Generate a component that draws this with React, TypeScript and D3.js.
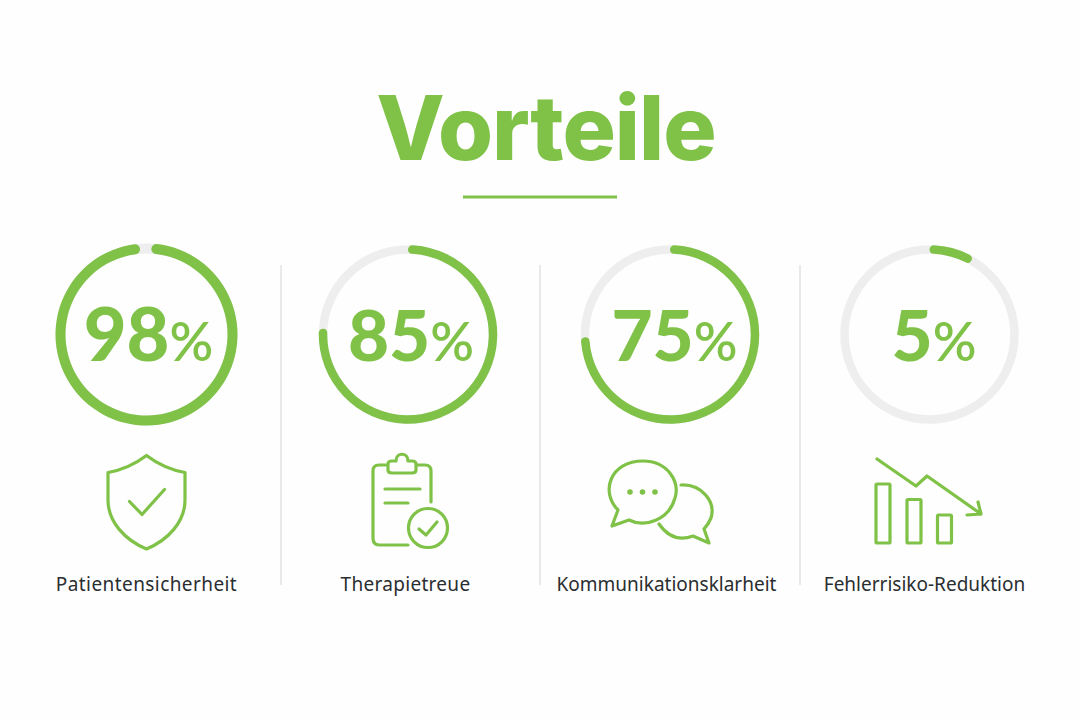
import React, { useEffect, useRef } from "react";
import * as d3 from "d3";

const labels = ["Patientensicherheit", "Therapietreue", "Kommunikationsklarheit", "Fehlerrisiko-Reduktion"];
const values = [98, 85, 75, 5];
// how far the ring is actually filled in the picture (not the same as the printed number)
const ringFill = [0.979, 0.761, 0.745, 0.082];
const ringStart = [0.009, 0, 0, 0];
const centers = [146.5, 408, 670, 929.5];
const valueCenters = [148.5, 411, 674.5, 934];
const labelCenters = [146.5, 405.5, 666.5, 924.5];
const labelSpacing = [0.42, 0.3, 0, 0];
const dividers = [281, 540, 800];

const GREEN = "#7FC247";
const TRACK = "#EEEEEE";

const App: React.FC = () => {
  const ref = useRef<SVGSVGElement | null>(null);

  useEffect(() => {
    const svg = d3.select(ref.current);
    svg.selectAll("*").remove();
    const font = "Lato, 'Open Sans', sans-serif";

    svg.append("rect").attr("width", 1080).attr("height", 720).attr("fill", "#FEFEFE");

    // title
    svg.append("text")
      .attr("x", 546).attr("y", 160)
      .attr("text-anchor", "middle")
      .style("font-family", "Inter, Lato, sans-serif").style("font-weight", 800).style("font-size", "89px")
      .style("letter-spacing", "-1px")
      .attr("fill", GREEN)
      .text("Vorteile");

    svg.append("line")
      .attr("x1", 463).attr("x2", 617).attr("y1", 197).attr("y2", 197)
      .attr("stroke", GREEN).attr("stroke-width", 3);

    svg.selectAll("line.divider").data(dividers).enter().append("line")
      .attr("class", "divider")
      .attr("x1", (d) => d).attr("x2", (d) => d)
      .attr("y1", 265).attr("y2", 585)
      .attr("stroke", "#E2E2E2").attr("stroke-width", 1.5);

    const scale = d3.scaleLinear().domain([0, 1]).range([0, 2 * Math.PI]);

    values.forEach((v, i) => {
      const g = svg.append("g").attr("transform", `translate(${centers[i]},334.5)`);
      const r = i === 0 ? 86 : 85;
      const w = i === 0 ? 10 : 8.5;
      g.append("circle").attr("r", r).attr("fill", "none").attr("stroke", TRACK).attr("stroke-width", w);

      const arc = d3.arc<any>()
        .innerRadius(r - w / 2).outerRadius(r + w / 2).cornerRadius(w / 2);
      g.append("path")
        .attr("d", arc({ startAngle: scale(ringStart[i]), endAngle: scale(ringStart[i] + ringFill[i]) }))
        .attr("fill", GREEN);

      const big = i === 0 ? 74 : 71;
      const t = svg.append("text")
        .attr("x", valueCenters[i]).attr("y", 361)
        .attr("text-anchor", "middle")
        .style("font-family", font)
        .attr("fill", GREEN);
      t.append("tspan").style("font-weight", 900).style("font-size", big + "px").text(v);
      t.append("tspan").style("font-weight", 600).style("font-size", "54px").text("%");

      svg.append("text")
        .attr("x", labelCenters[i]).attr("y", 591)
        .attr("text-anchor", "middle")
        .style("font-family", "'Noto Sans', sans-serif").style("font-size", "19px")
        .style("letter-spacing", labelSpacing[i] + "px")
        .attr("fill", "#2A2E31")
        .text(labels[i]);
    });

    const icon = svg.append("g")
      .attr("fill", "none").attr("stroke", GREEN).attr("stroke-width", 3.2)
      .attr("stroke-linecap", "round").attr("stroke-linejoin", "round");

    // shield
    icon.append("path").attr("d", "M146.5 455.5 C134 465 122 470 108 472.5 L108 500 C108 522 125 540 146.5 549 C168 540 185 522 185 500 L185 472.5 C171 470 159 465 146.5 455.5 Z");
    icon.append("path").attr("d", "M129.5 501.5 L142 514.5 L164.5 489.5");

    // clipboard
    icon.append("path").attr("d", "M386 465 L379 465 Q373 465 373 471 L373 538 Q373 545 379 545 L408 545");
    icon.append("path").attr("d", "M417 465 L425 465 Q431 465 431 471 L431 502");
    icon.append("path").attr("d", "M388 464 Q388 461 392 461 L396 461 C396 452 408 452 408 461 L412 461 Q416 461 416 464 L416 470 Q416 473 412 473 L392 473 Q388 473 388 470 Z");
    icon.append("path").attr("d", "M385 489 L420 489 M385 503 L408 503");
    icon.append("circle").attr("cx", 428).attr("cy", 528).attr("r", 19.5);
    icon.append("path").attr("d", "M419 529 L426 535 L437 522");

    // speech bubbles
    icon.append("path").attr("d", "M618 510 C600 492 610 461 643 461 C668 461 680 482 675 498 C669 520 645 528 629 520 L612 526 Z");
    icon.append("path").attr("d", "M681 485 C702 484 716 502 711 518 Q708 525 704 529 L709 543 L693 536 C677 542 666 534 659 524");
    icon.append("g").attr("fill", GREEN).attr("stroke", "none")
      .selectAll("circle").data([630, 642.5, 655]).enter().append("circle")
      .attr("cx", (d) => d).attr("cy", 492).attr("r", 2.8);

    // falling bars
    icon.append("rect").attr("x", 876).attr("y", 484).attr("width", 14).attr("height", 59).attr("rx", 1);
    icon.append("rect").attr("x", 907).attr("y", 499.5).attr("width", 14).attr("height", 43.5).attr("rx", 1);
    icon.append("rect").attr("x", 937.5).attr("y", 515).attr("width", 14).attr("height", 28).attr("rx", 1);
    icon.append("path").attr("d", "M877 459 L916 486 L927 476 L981 514 M978 502 L981 514 L967 515");
  }, []);

  return <svg ref={ref} width={1080} height={720} style={{ position: "absolute", left: 0, top: 0 }} />;
};

export default App;
